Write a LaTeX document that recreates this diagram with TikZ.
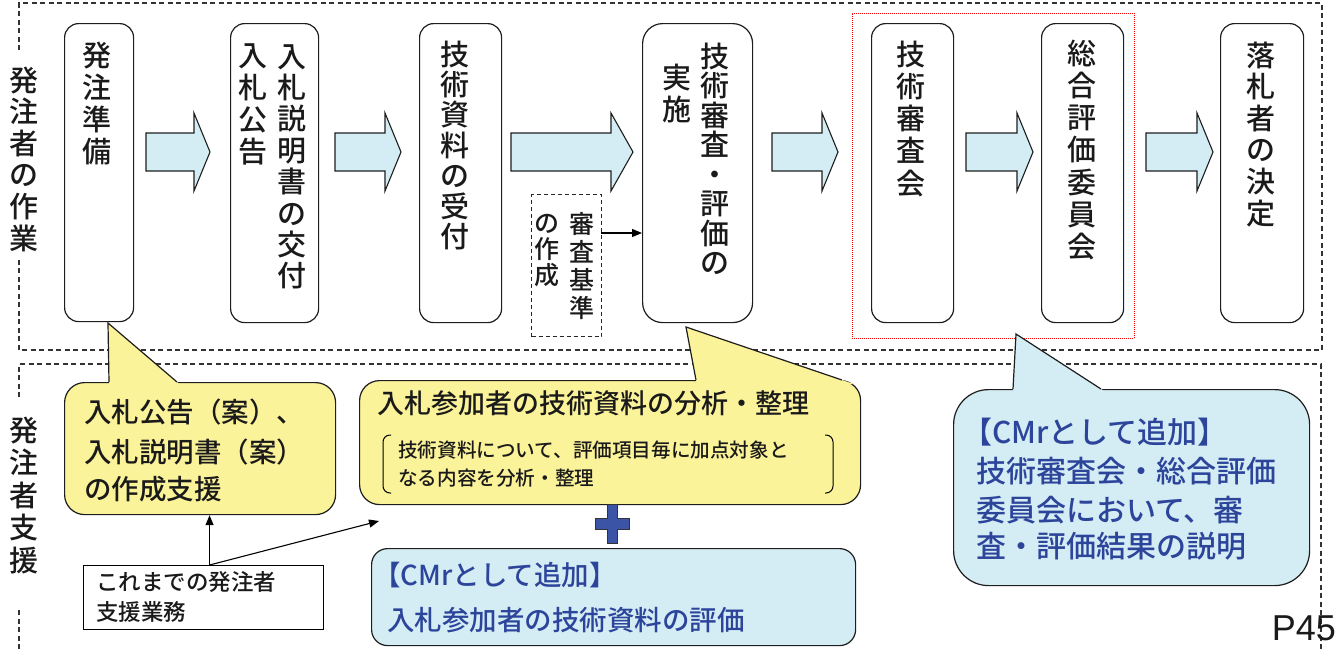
\documentclass[tikz,border=0pt]{standalone}
\usepackage{fontspec}
\IfFontExistsTF{Noto Sans CJK JP Medium}{\setmainfont{Noto Sans CJK JP Medium}}{\setmainfont{Noto Sans CJK JP}}
\newfontfamily\latinsans{Liberation Sans}
\usetikzlibrary{arrows.meta,calc}
\definecolor{arrfill}{RGB}{212,237,244}
\definecolor{yelfill}{RGB}{251,243,154}
\definecolor{bluefill}{RGB}{212,236,244}
\definecolor{bluetext}{RGB}{44,69,155}
\definecolor{plusfill}{RGB}{59,84,166}
\definecolor{inkc}{RGB}{26,26,26}
\definecolor{edgec}{RGB}{30,30,30}
\newcommand\vcol[6]{%
  \foreach \ch [count=\i] in {#6} {%
    \node[font=\fontsize{#5}{#5}\selectfont, text=inkc, anchor=base, inner sep=0pt]
      (#1\i) at (#2, {#3+(\i-1)*#4+0.38*#5}) {\ch};}}
\newcommand\tline[6]{%
  \node[anchor=base west, inner sep=0pt, font=\fontsize{#4}{#4}\selectfont, text=#5]
    (#1) at (#2, {#3+0.38*#4}) {#6};}
\newcommand\barrow[3]{%
  \draw[barr] (#1,133) -- (#2,133) -- (#2,113) -- (#3,152) -- (#2,191) -- (#2,171) -- (#1,171) -- cycle;}
\newcommand\pointer[4]{%
  \fill[#1] (#3) -- ($(#3)!1.08!(#2)$) -- ($(#3)!1.08!(#4)$) -- cycle;
  \draw[edgec, line width=1.2pt, line join=miter] (#2) -- (#3) -- (#4);}
\begin{document}
\begin{tikzpicture}[x=1pt,y=-1pt,
  mbox/.style={draw=edgec, line width=1.2pt, fill=white, rounded corners=14pt, inner sep=0pt, anchor=north west},
  barr/.style={draw=edgec, line width=1.1pt, fill=arrfill, line join=miter},
  dashline/.style={draw=black!80, line width=1.1pt, dash pattern=on 5pt off 3.5pt},
  callbox/.style={draw=edgec, line width=1.2pt, inner sep=0pt, anchor=north west},
  thinarr/.style={draw=black, line width=1.1pt, -{Triangle[length=10pt,width=8pt]}}]
\useasboundingbox (0,0) rectangle (1335,651);
\fill[white] (0,0) rectangle (1335,651);

% outer dashed frames
\draw[dashline] (19,50) -- (19,3) -- (1322,3) -- (1322,350) -- (19,350) -- (19,258);
\draw[dashline] (19,397) -- (19,364) -- (1321,364) -- (1321,655);
\draw[dashline] (19,610) -- (19,655);

% side labels
\vcol{sa}{24}{80}{31.6}{29}{発,注,者,の,作,業}
\vcol{sb}{24}{430}{32.5}{29}{発,注,者,支,援}

% red dotted group
\node[draw=red, line width=0.9pt, dash pattern=on 1pt off 1pt, minimum width=282, minimum height=325, inner sep=0pt, anchor=north west] (grp) at (852,13) {};

% main boxes
\node[mbox, minimum width=69, minimum height=298] (b1) at (64,23) {};
\node[mbox, minimum width=88, minimum height=299] (b2) at (230,23) {};
\node[mbox, minimum width=82, minimum height=299] (b3) at (419,23) {};
\node[mbox, minimum width=110, minimum height=299, rounded corners=20pt] (b4) at (642,23) {};
\node[mbox, minimum width=82, minimum height=299] (b5) at (871,23) {};
\node[mbox, minimum width=82, minimum height=299] (b6) at (1041,23) {};
\node[mbox, minimum width=83, minimum height=299] (b7) at (1220,23) {};

% box texts
\vcol{ta}{97}{55}{32}{29}{発,注,準,備}
\vcol{tbr}{292}{56}{31.4}{29}{入,札,説,明,書,の,交,付}
\vcol{tbl}{253}{55}{32}{29}{入,札,公,告}
\vcol{tc}{455}{54}{30.4}{29}{技,術,資,料,の,受,付}
\vcol{tdr}{715}{56}{29.5}{29}{技,術,審,査,・,評,価,の}
\vcol{tdl}{677}{77}{32}{29}{実,施}
\vcol{te}{911}{54}{32.3}{29}{技,術,審,査,会}
\vcol{tf}{1082}{53}{32.3}{29}{総,合,評,価,委,員,会}
\vcol{tg}{1261}{55}{31.6}{29}{落,札,者,の,決,定}

% block arrows
\barrow{146}{194}{210}
\barrow{335}{385}{401}
\barrow{511}{611}{633}
\barrow{772}{822}{838}
\barrow{966}{1017}{1033}
\barrow{1146}{1197}{1213}

% criteria box
\node[draw=black!85, line width=1.1pt, dash pattern=on 4pt off 3pt, minimum width=70, minimum height=142, inner sep=0pt, anchor=north west] (crit) at (531,194) {};
\vcol{tka}{582}{224}{28}{25}{審,査,基,準}
\vcol{tkb}{547}{223}{26}{25}{の,作,成}
\coordinate (critout) at (601,233);
\draw[thinarr] (critout) -- (critout -| b4.west);

% callout 1 (yellow)
\node[callbox, fill=yelfill, rounded corners=20pt, minimum width=271, minimum height=132] (c1) at (64,382) {};
\coordinate (c1l) at (109,382); \coordinate (c1t) at (108,323); \coordinate (c1r) at (177,382);
\pointer{yelfill}{c1l}{c1t}{c1r}
\tline{c1a}{84}{412}{27.5}{inkc}{入札公告（案）、}
\tline{c1b}{84}{452}{27.5}{inkc}{入札説明書（案）}
\tline{c1c}{84}{489}{27.5}{inkc}{の作成支援}

% callout 2 (yellow)
\node[callbox, fill=yelfill, rounded corners=20pt, minimum width=501, minimum height=124] (c2) at (359,380) {};
\coordinate (c2l) at (696,380); \coordinate (c2t) at (686,327); \coordinate (c2r) at (842,380);
\pointer{yelfill}{c2l}{c2t}{c2r}
\tline{c2a}{377}{403}{27}{inkc}{入札参加者の技術資料の分析・整理}
\tline{c2b}{398}{450}{19.6}{inkc}{技術資料について、評価項目毎に加点対象と}
\tline{c2c}{398}{478}{19.6}{inkc}{なる内容を分析・整理}
\draw[black, line width=1pt, rounded corners=7pt] (391,435) -- (383,435) -- (383,493) -- (391,493);
\draw[black, line width=1pt, rounded corners=7pt] (825,435) -- (833,435) -- (833,493) -- (825,493);

% plus sign
\draw[draw=black!80, line width=1pt, fill=plusfill] (607,504) -- (617,504) -- (617,518) -- (629,518) -- (629,529) -- (617,529) -- (617,543) -- (607,543) -- (607,529) -- (595,529) -- (595,518) -- (607,518) -- cycle;

% blue box
\node[callbox, fill=bluefill, rounded corners=16pt, minimum width=484, minimum height=97] (bb) at (371,548) {};
\tline{bba}{373}{575}{27.5}{bluetext}{【CMrとして追加】}
\tline{bbb}{387}{620}{27.5}{bluetext}{入札参加者の技術資料の評価}

% callout 3 (blue)
\node[callbox, fill=bluefill, rounded corners=35pt, minimum width=356, minimum height=196] (c3) at (953,389) {};
\coordinate (c3l) at (1013,389); \coordinate (c3t) at (1016,334); \coordinate (c3r) at (1101,389);
\pointer{bluefill}{c3l}{c3t}{c3r}
\tline{c3a}{962}{432}{30}{bluetext}{【CMrとして追加】}
\tline{c3b}{976}{471}{30}{bluetext}{技術審査会・総合評価}
\tline{c3c}{976}{510}{30}{bluetext}{委員会において、審}
\tline{c3d}{976}{546}{30}{bluetext}{査・評価結果の説明}

% previous support box
\node[draw=black, line width=1.1pt, fill=white, minimum width=240, minimum height=64, inner sep=0pt, anchor=north west] (prev) at (83,565) {};
\tline{pva}{96}{582}{22.5}{inkc}{これまでの発注者}
\tline{pvb}{96}{612}{22.5}{inkc}{支援業務}
\coordinate (c2in) at (379,521);
\draw[thinarr] ([xshift=6pt]prev.north) -- ([xshift=6pt]prev.north |- c1.south);
\draw[thinarr] ([xshift=6pt]prev.north) -- (c2in);

% page number
\node[font=\latinsans\fontsize{36}{36}\selectfont, text=inkc, anchor=base east, inner sep=0pt] (pg) at (1336,640) {P45};
\end{tikzpicture}
\end{document}
